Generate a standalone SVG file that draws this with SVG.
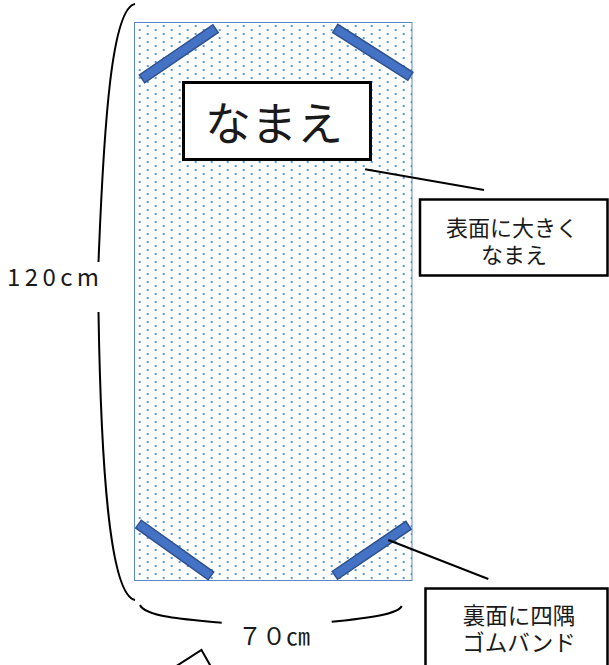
<svg xmlns="http://www.w3.org/2000/svg" width="609" height="665" viewBox="0 0 609 665">
  <style>
    .t { font-family: "Noto Sans CJK JP", "Noto Sans", sans-serif; fill: #1a1a1a; }
    .box { fill: #ffffff; stroke: #000000; stroke-width: 2.5; }
    .band { fill: #4472c4; stroke: #2f528f; stroke-width: 1.5; }
    .line { fill: none; stroke: #000000; stroke-width: 2; }
  </style>
  <defs>
    <pattern id="dots" patternUnits="userSpaceOnUse" x="0" y="0" width="16" height="8">
      <rect x="10.7" y="5" width="2" height="2" fill="#5b9bd5"/>
      <rect x="2.7" y="1" width="2" height="2" fill="#5b9bd5"/>
    </pattern>
  </defs>
  <rect width="609" height="665" fill="#ffffff"/>

  <g id="mat">
    <rect x="134.5" y="22.5" width="277.5" height="558" fill="#ffffff"/>
    <rect x="134.5" y="22.5" width="277.5" height="558" fill="url(#dots)" stroke="#5a87c5" stroke-width="1"/>
  </g>

  <g id="bands">
    <rect class="band" x="-44.5" y="-4.75" width="89" height="9.5" transform="translate(178.8,53.7) rotate(-34.3)"/>
    <rect class="band" x="-44.5" y="-4.75" width="89" height="9.5" transform="translate(372.8,52.3) rotate(32.5)"/>
    <rect class="band" x="-44.5" y="-4.75" width="89" height="9.5" transform="translate(174.7,550) rotate(35.5)"/>
    <rect class="band" x="-44.5" y="-4.75" width="89" height="9.5" transform="translate(371.7,550.3) rotate(-34.2)"/>
  </g>

  <g id="name-box">
    <rect x="183.5" y="82.5" width="187" height="77" fill="#ffffff" stroke="#000000" stroke-width="3"/>
    <text class="t" x="274" y="140" font-size="46" text-anchor="middle">なまえ</text>
  </g>

  <g id="connectors">
    <line class="line" x1="365" y1="169.3" x2="484" y2="190"/>
    <line class="line" x1="388.3" y1="540" x2="488.3" y2="579"/>
    <path class="line" d="M135,4 C112,8 104,120 98.5,262"/>
    <path class="line" d="M98.5,312 C101,470 110,595 135,600"/>
    <path class="line" d="M140,605 C145,617 190,620 221.7,622.7"/>
    <path class="line" d="M331.7,621.7 C370,618 398,614 401.7,606"/>
  </g>

  <g id="label-front">
    <rect class="box" x="420" y="199.5" width="187.5" height="76"/>
    <text class="t" font-size="22" text-anchor="middle"><tspan x="512" y="236">表面に大きく</tspan><tspan x="514" y="263">なまえ</tspan></text>
  </g>

  <g id="label-back">
    <rect class="box" x="425.5" y="588.5" width="182" height="100"/>
    <text class="t" font-size="22.5" text-anchor="middle"><tspan x="519" y="624">裏面に四隅</tspan><tspan x="519" y="650.5">ゴムバンド</tspan></text>
  </g>

  <g id="dim-height">
    <text class="t" x="7" y="286" font-size="24" textLength="92" lengthAdjust="spacing">120cm</text>
  </g>

  <g id="dim-width">
    <text class="t" x="238" y="645" font-size="24">７０㎝</text>
  </g>

  <g id="bottom-shape">
    <polygon points="201.5,650 235.5,710 188,740 154.5,680" fill="#ffffff" stroke="#000000" stroke-width="2"/>
  </g>
</svg>
